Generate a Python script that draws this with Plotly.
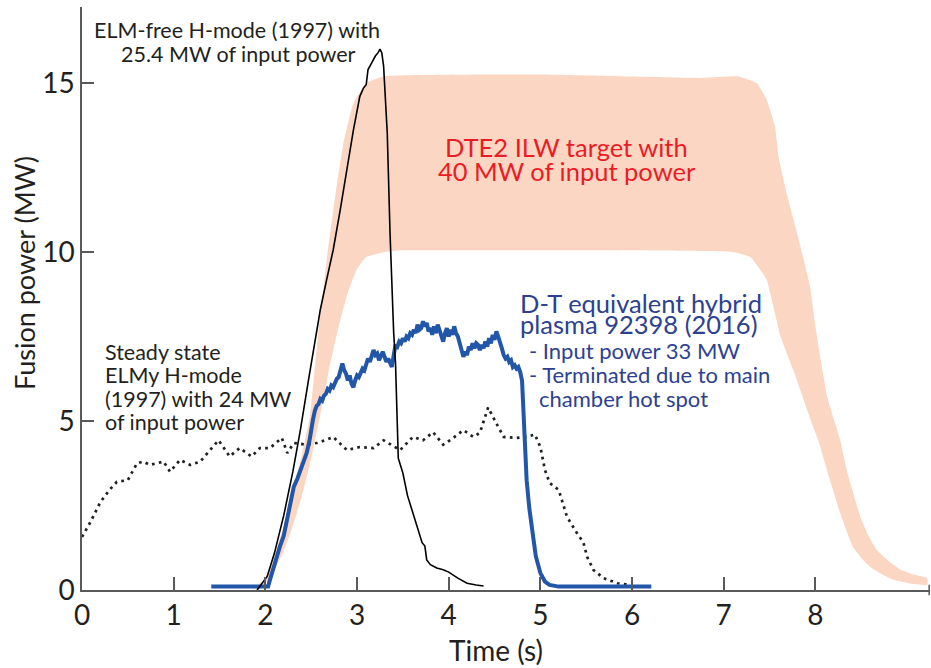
import plotly.graph_objects as go

# --- DTE2 ILW target band (upper / lower envelope) ---
band_hi_t = [1.85, 2.0, 2.1, 2.2, 2.3, 2.4, 2.49, 2.58, 2.68, 2.77, 2.85, 2.96, 3.1, 3.3, 5.0,
             6.74, 7.15, 7.36, 7.47, 7.56, 7.6, 7.69, 7.8, 7.94, 8.0, 8.13, 8.27, 8.35, 8.49,
             8.58, 8.67, 8.8, 8.93, 9.08, 9.22]
band_hi_p = [0, 0.35, 1.0, 1.9, 2.9, 4.0, 5.2, 7.7, 10.0, 11.8, 13.2, 14.4, 15.0, 15.2, 15.25,
             15.15, 15.2, 15.0, 14.5, 13.7, 12.8, 11.7, 10.56, 9.0, 7.8, 5.7, 4.44, 3.46, 2.17,
             1.6, 1.18, 0.85, 0.6, 0.45, 0.35]
band_lo_t = [1.85, 2.0, 2.1, 2.2, 2.3, 2.4, 2.5, 2.6, 2.7, 2.8, 2.9, 3.0, 3.1, 3.3, 3.5, 5.0,
             7.1, 7.29, 7.4, 7.47, 7.62, 7.76, 7.94, 8.03, 8.16, 8.27, 8.41, 8.5, 8.6, 8.72,
             8.85, 9.02, 9.22]
band_lo_p = [0, 0.2, 0.6, 1.15, 1.9, 2.8, 3.9, 5.2, 6.6, 7.8, 8.8, 9.5, 9.85, 10.0, 10.05, 10.05,
             10.0, 9.85, 9.47, 9.17, 7.5, 6.5, 5.1, 4.44, 3.25, 2.28, 1.27, 0.95, 0.68, 0.47,
             0.3, 0.2, 0.15]

# --- Steady state ELMy H-mode (1997) ---
elmy_t = [0, 0.09, 0.2, 0.3, 0.38, 0.5, 0.6, 0.67, 0.74, 0.82, 0.89, 0.96, 1.07, 1.18, 1.29,
          1.4, 1.49, 1.61, 1.72, 1.85, 1.94, 2.05, 2.18, 2.24, 2.31, 2.45, 2.56, 2.65, 2.74, 2.89,
          3.03, 3.18, 3.29, 3.47, 3.61, 3.72, 3.83, 3.94, 4.05, 4.16, 4.27, 4.34, 4.43, 4.52, 4.6,
          4.74, 4.85, 4.94, 5.0, 5.05, 5.1, 5.2, 5.29, 5.4, 5.47, 5.51, 5.58, 5.69, 5.84, 5.98]
elmy_p = [1.57, 2.0, 2.6, 2.96, 3.2, 3.25, 3.75, 3.8, 3.7, 3.75, 3.8, 3.5, 3.85, 3.7, 3.8,
          4.15, 4.43, 3.95, 4.2, 3.95, 4.2, 4.2, 4.5, 4.05, 4.35, 4.3, 4.35, 4.43, 4.53, 4.14,
          4.23, 4.2, 4.43, 4.14, 4.53, 4.43, 4.67, 4.3, 4.5, 4.73, 4.53, 4.65, 5.4, 4.93, 4.53,
          4.5, 4.53, 4.6, 4.23, 3.55, 3.17, 2.96, 2.17, 1.68, 1.4, 0.98, 0.59, 0.35, 0.2, 0.15]

# --- ELM-free H-mode (1997) ---
elmfree_t = [1.91, 2.02, 2.1, 2.2, 2.3, 2.38, 2.47, 2.56, 2.6, 2.67, 2.74, 2.82, 2.89, 2.96,
             3.03, 3.07, 3.1, 3.12, 3.16, 3.2, 3.23, 3.25, 3.27, 3.29, 3.33, 3.36, 3.4, 3.42,
             3.45, 3.5, 3.55, 3.61, 3.66, 3.71, 3.74, 3.76, 3.8, 3.87, 3.94, 4.0, 4.1, 4.2, 4.3, 4.38]
elmfree_p = [0, 0.4, 1.1, 2.2, 3.5, 4.7, 6.2, 7.7, 8.3, 9.2, 10.06, 11.3, 12.5, 13.6,
             14.6, 14.85, 14.95, 15.4, 15.6, 15.8, 15.9, 16.0, 15.9, 15.5, 13.5, 10.56, 7.6, 6.7,
             3.9, 3.46, 2.8, 2.28, 1.8, 1.4, 1.3, 0.89, 0.75, 0.65, 0.6, 0.53, 0.35, 0.2, 0.15, 0.12]

# --- D-T equivalent hybrid plasma 92398 (2016) ---
hybrid_t = [1.41, 2.03, 2.05, 2.08, 2.12, 2.16, 2.2, 2.24, 2.27, 2.31, 2.35, 2.38, 2.42, 2.45, 2.48,
            2.50, 2.52, 2.54, 2.56, 2.58, 2.60, 2.62, 2.64, 2.66, 2.68, 2.70, 2.72, 2.74, 2.76,
            2.78, 2.80, 2.82, 2.84, 2.86, 2.88, 2.90, 2.92, 2.94, 2.96, 2.98, 3.00, 3.02, 3.04,
            3.06, 3.08, 3.10, 3.12, 3.14, 3.16, 3.18, 3.20, 3.22, 3.24, 3.26, 3.28, 3.30, 3.32,
            3.34, 3.36, 3.38, 3.40, 3.42, 3.44, 3.46, 3.48, 3.50, 3.52, 3.54, 3.56, 3.58, 3.60,
            3.62, 3.64, 3.66, 3.68, 3.70, 3.72, 3.74, 3.76, 3.78, 3.80, 3.82, 3.84, 3.86, 3.88,
            3.90, 3.92, 3.94, 3.96, 3.98, 4.00, 4.02, 4.04, 4.06, 4.08, 4.10, 4.12, 4.14, 4.16,
            4.18, 4.20, 4.22, 4.24, 4.26, 4.28, 4.30, 4.32, 4.34, 4.36, 4.38, 4.40, 4.42, 4.44,
            4.46, 4.48, 4.50, 4.52, 4.54, 4.56, 4.58, 4.60, 4.62, 4.64, 4.66, 4.68, 4.70, 4.72,
            4.74, 4.76, 4.78, 4.80, 4.81, 4.83, 4.85, 4.88, 4.91, 4.95, 5.0, 5.05, 5.1, 5.2, 6.21]
hybrid_p = [0.1, 0.1, 0.3, 0.6, 1.0, 1.3, 1.6, 2.1, 2.45, 3.05, 3.3, 3.55, 3.8, 4.05, 4.4,
            4.8, 5.05, 5.3, 5.45, 5.5, 5.65, 5.6, 5.75, 5.8, 5.95, 5.9, 6.05, 6.0, 6.15,
            6.25, 6.3, 6.55, 6.7, 6.5, 6.4, 6.2, 6.35, 6.1, 6.0, 6.2, 6.35, 6.3, 6.45,
            6.55, 6.5, 6.7, 6.85, 6.75, 6.95, 7.1, 6.95, 7.0, 6.8, 6.9, 7.05, 6.9, 6.75,
            6.85, 6.7, 6.6, 6.95, 7.25, 7.2, 7.35, 7.3, 7.45, 7.35, 7.5, 7.45, 7.6, 7.55,
            7.7, 7.6, 7.85, 7.7, 7.75, 7.95, 7.8, 7.9, 7.65, 7.75, 7.55, 7.8, 7.6, 7.85,
            7.65, 7.5, 7.35, 7.6, 7.75, 7.5, 7.7, 7.55, 7.8, 7.6, 7.5, 7.3, 7.05, 6.9,
            7.05, 6.95, 7.2, 7.1, 7.3, 7.15, 7.3, 7.25, 7.1, 7.25, 7.15, 7.35, 7.2, 7.45,
            7.3, 7.55, 7.4, 7.65, 7.5, 7.35, 7.15, 6.95, 6.85, 6.9, 6.75, 6.8, 6.6, 6.65,
            6.55, 6.6, 6.45, 6.2, 5.6, 4.9, 3.25, 2.4, 1.78, 1.0, 0.5, 0.25, 0.15, 0.1, 0.1]

x_ticks = [1, 2, 3, 4, 5, 6, 7, 8]
y_ticks = [0, 5, 10, 15]

FONT = "Lato"
AXIS_GREY = "#5a5a5a"
BAND = "#fbd6c3"
BLUE_LINE = "#2156a8"
BLUE_TEXT = "#2d4190"
RED_TEXT = "#ec1c24"
INK = "#231f20"

fig = go.Figure()

fig.add_trace(go.Scatter(
    x=band_hi_t + band_lo_t[::-1],
    y=band_hi_p + band_lo_p[::-1],
    fill="toself", fillcolor=BAND, mode="lines",
    line=dict(width=0, color=BAND, shape="spline", smoothing=0.35),
    hoverinfo="skip", showlegend=False,
))
fig.add_trace(go.Scatter(
    x=elmy_t, y=elmy_p, mode="lines",
    line=dict(color=INK, width=2.7, dash="2.7px,4.3px"),
    showlegend=False,
))
fig.add_trace(go.Scatter(
    x=hybrid_t, y=hybrid_p, mode="lines",
    line=dict(color=BLUE_LINE, width=4),
    showlegend=False,
))
fig.add_trace(go.Scatter(
    x=elmfree_t, y=elmfree_p, mode="lines",
    line=dict(color="#000000", width=1.6),
    showlegend=False,
))


def label(text, x, y, size, color, anchor="left"):
    fig.add_annotation(x=x, y=y, xref="x", yref="y", text=text, showarrow=False,
                       xanchor=anchor, yanchor="middle",
                       font=dict(family=FONT, size=size, color=color))


# ELM-free H-mode caption
label("ELM-free H-mode (1997) with", 1.69, 16.58, 21.5, INK, "center")
label("25.4 MW of input power", 1.71, 15.87, 21.5, INK, "center")

# DTE2 target caption
label("DTE2 ILW target with", 5.29, 13.11, 25.5, RED_TEXT, "center")
label("40 MW of input power", 5.29, 12.40, 25.5, RED_TEXT, "center")

# Hybrid plasma caption
label("D-T equivalent hybrid", 4.755, 8.50, 25.5, BLUE_TEXT)
label("plasma 92398 (2016)", 4.755, 7.86, 25.5, BLUE_TEXT)
label("- Input power 33 MW", 4.854, 7.09, 22, BLUE_TEXT)
label("- Terminated due to main", 4.854, 6.39, 22, BLUE_TEXT)
label("chamber hot spot", 4.963, 5.67, 22, BLUE_TEXT)

# Steady state caption
label("Steady state", 0.232, 7.03, 21.5, INK)
label("ELMy H-mode", 0.232, 6.36, 21.5, INK)
label("(1997) with 24 MW", 0.232, 5.64, 21.5, INK)
label("of input power", 0.232, 4.96, 21.5, INK)

# Axis titles
fig.add_annotation(x=-0.067, y=0.544, xref="paper", yref="paper", text="Fusion power (MW)",
                   textangle=-90, showarrow=False, xanchor="center", yanchor="middle",
                   font=dict(family=FONT, size=27, color=INK))
fig.add_annotation(x=0.488, y=-0.103, xref="paper", yref="paper", text="Time (s)",
                   showarrow=False, xanchor="center", yanchor="middle",
                   font=dict(family=FONT, size=28, color=INK))

# end mark of the time axis
fig.add_shape(type="line", xref="paper", yref="paper", x0=0.999, x1=0.999, y0=-0.009, y1=0.009,
              line=dict(color=AXIS_GREY, width=1.5))

fig.update_layout(
    width=931, height=668,
    margin=dict(l=82, r=1, t=7, b=78),
    paper_bgcolor="white", plot_bgcolor="white",
    showlegend=False,
    xaxis=dict(range=[0, 9.25], tickvals=[0] + x_ticks, ticktext=["0"] + [str(v) for v in x_ticks],
               showgrid=False, zeroline=False, showline=True, linecolor=AXIS_GREY, linewidth=1.5,
               ticks="inside", ticklen=13, tickwidth=1.5, tickcolor=AXIS_GREY,
               tickfont=dict(family=FONT, size=28, color=INK)),
    yaxis=dict(range=[0, 17.25], tickvals=y_ticks, ticktext=[str(v) for v in y_ticks],
               showgrid=False, zeroline=False, showline=True, linecolor=AXIS_GREY, linewidth=1.5,
               ticks="inside", ticklen=12, tickwidth=1.5, tickcolor=AXIS_GREY,
               tickfont=dict(family=FONT, size=28, color=INK)),
)

fig.write_html("out.html")
